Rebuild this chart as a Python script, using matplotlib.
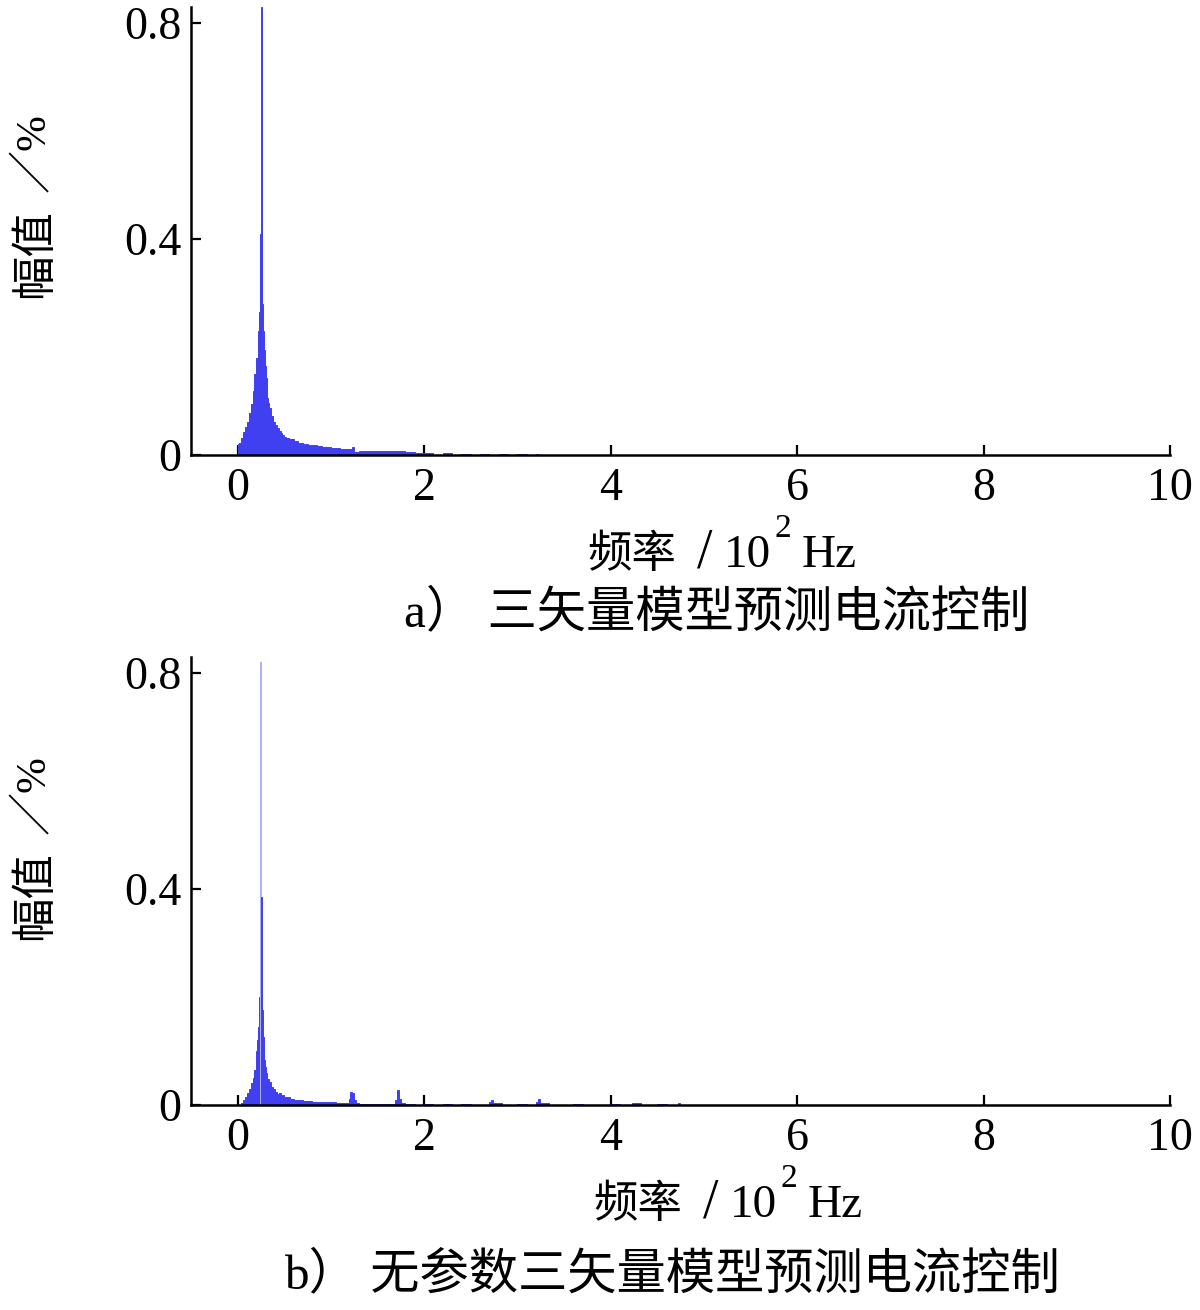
import numpy as np
import matplotlib
matplotlib.use("Agg")
import matplotlib.pyplot as plt

# ---------------- data ----------------
# (a) three-vector model predictive current control: frequency (10^2 Hz), amplitude (%)
freq_a = [0.00, 0.02, 0.04, 0.06, 0.08, 0.10, 0.12, 0.14, 0.16, 0.18, 0.20, 0.22,
          0.23, 0.24, 0.25, 0.26, 0.27, 0.28, 0.29, 0.30, 0.31, 0.32, 0.33, 0.34,
          0.36, 0.38, 0.40, 0.42, 0.44, 0.46, 0.48, 0.50, 0.52, 0.55, 0.60, 0.65,
          0.70, 0.75, 0.80, 0.85, 0.90, 0.95, 1.00, 1.05, 1.10, 1.15, 1.20, 1.23,
          1.25, 1.30, 1.40, 1.50, 1.60, 1.70, 1.80, 1.90, 2.00, 2.20, 2.40, 2.60,
          2.80, 3.00, 3.20]
amp_a = [0.020, 0.022, 0.032, 0.042, 0.052, 0.062, 0.078, 0.095, 0.118, 0.150, 0.180, 0.230,
         0.265, 0.410, 0.830, 0.280, 0.230, 0.195, 0.165, 0.142, 0.122, 0.106, 0.096, 0.087,
         0.072, 0.062, 0.055, 0.050, 0.044, 0.040, 0.037, 0.034, 0.032, 0.029, 0.026, 0.023,
         0.021, 0.019, 0.018, 0.016, 0.015, 0.014, 0.013, 0.013, 0.012, 0.012, 0.012, 0.015,
         0.006, 0.007, 0.007, 0.0075, 0.007, 0.007, 0.006, 0.004, 0.003, 0.003, 0.0025, 0.002,
         0.0015, 0.001, 0.001]

# (b) parameter-free three-vector model predictive current control
freq_b = [0.04, 0.06, 0.08, 0.10, 0.12, 0.14, 0.16, 0.18, 0.20, 0.21, 0.22, 0.23,
          0.24, 0.25, 0.26, 0.27, 0.28, 0.29, 0.30, 0.32, 0.34, 0.36, 0.38, 0.40,
          0.42, 0.44, 0.46, 0.48, 0.50, 0.52, 0.56, 0.60, 0.65, 0.70, 0.75, 0.80,
          0.85, 0.90, 0.95, 1.00, 1.05, 1.10, 1.15, 1.19, 1.21, 1.23, 1.25, 1.27,
          1.30, 1.40, 1.50, 1.60, 1.69, 1.71, 1.73, 1.75, 1.80, 2.00, 2.20, 2.40,
          2.70, 2.72, 2.74, 3.00, 3.20, 3.22, 3.24, 3.60, 4.00, 4.23, 4.50, 4.72]
amp_b = [0.003, 0.010, 0.015, 0.022, 0.030, 0.040, 0.050, 0.065, 0.100, 0.120, 0.145, 0.200,
         0.820, 0.385, 0.176, 0.126, 0.083, 0.070, 0.060, 0.048, 0.042, 0.034, 0.030, 0.024,
         0.020, 0.022, 0.017, 0.019, 0.014, 0.015, 0.011, 0.010, 0.009, 0.008, 0.007, 0.006,
         0.006, 0.005, 0.005, 0.005, 0.004, 0.004, 0.004, 0.012, 0.025, 0.022, 0.010, 0.004,
         0.002, 0.002, 0.002, 0.002, 0.010, 0.027, 0.012, 0.003, 0.001, 0.001, 0.001, 0.001,
         0.005, 0.010, 0.004, 0.001, 0.006, 0.012, 0.004, 0.001, 0.001, 0.004, 0.001, 0.004]

x_ticks = [0, 2, 4, 6, 8, 10]
y_ticks = [0, 0.4, 0.8]
y_ticklabels = ["0", "0.4", "0.8"]
ylabel_parts = ["幅值", "／%"]
xlabel_parts = ["频率", "/", "10", "2", "Hz"]
caption_a = "a） 三矢量模型预测电流控制"
caption_b = "b） 无参数三矢量模型预测电流控制"

# ---------------- style ----------------
W, H = 1200, 1310
SERIF = "Liberation Serif"
CJK = "Noto Sans CJK SC"
FAM = [SERIF, CJK, "DejaVu Sans"]
plt.rcParams["font.family"] = FAM
BLUE = "#4040f0"
LIGHT = "#aeaefa"

fig = plt.figure(figsize=(W / 100, H / 100), dpi=100)


def px_axes(left, right, bottom, top):
    return fig.add_axes([left / W, 1 - bottom / H, (right - left) / W, (bottom - top) / H])


def draw(ax, f, a, light_peak=False):
    f = np.asarray(f, float)
    a = np.asarray(a, float)
    widths = np.minimum(np.diff(np.append(f, f[-1] + 0.02)), 0.1)
    colors = [LIGHT if (light_peak and v > 0.6) else BLUE for v in a]
    ax.bar(f, a, width=widths, align="edge", color=colors, edgecolor=colors,
           linewidth=0.7, zorder=2)
    ax.set_xlim(-0.5, 10)
    ax.set_ylim(0, 0.83)
    ax.set_xticks(x_ticks)
    ax.set_xticklabels([str(t) for t in x_ticks])
    ax.set_yticks(y_ticks)
    ax.set_yticklabels(y_ticklabels)
    for s in ("top", "right"):
        ax.spines[s].set_visible(False)
    for s in ("left", "bottom"):
        ax.spines[s].set_linewidth(1.8)
        ax.spines[s].set_zorder(3)
    ax.tick_params(direction="in", length=7, width=1.6, labelsize=33, pad=7)
    ax.tick_params(axis="x", pad=9)
    for lab in ax.get_xticklabels() + ax.get_yticklabels():
        lab.set_fontfamily(SERIF)


axes_a = px_axes(191, 1170, 455, 7)
axes_b = px_axes(191, 1170, 1105, 657)
draw(axes_a, freq_a, amp_a)
draw(axes_b, freq_b, amp_b, light_peak=True)


def put(x, y, s, size, fam, **kw):
    return fig.text(x / W, 1 - y / H, s, fontsize=size, family=fam, **kw)


def xlabel_at(x0, baseline):
    # left edges (px) of each piece relative to the label start, and vertical raise
    offsets = [0, 110, 137, 187, 215]
    sizes = [32, 40, 34, 24, 34]
    fams = [CJK, SERIF, SERIF, SERIF, SERIF]
    raises = [0, 0, 0, 30, 0]
    for s, dx, size, fam, up in zip(xlabel_parts, offsets, sizes, fams, raises):
        put(x0 + dx, baseline - up, s, size, fam, ha="left", va="baseline")


def ylabel_at(cx, cy_cjk):
    # centres along the vertical direction (px from top), relative to the CJK part
    d = [0, -100]
    sizes = [32, 31]
    fams = [CJK, FAM]
    for s, dy, size, fam in zip(ylabel_parts, d, sizes, fams):
        put(cx, cy_cjk + dy, s, size, fam, rotation=90, ha="center", va="center")


ylabel_at(34, 253)
ylabel_at(34, 895)
xlabel_at(587, 567)
xlabel_at(593, 1217)
put(717, 613, caption_a, 35.5, FAM, ha="center", va="center")
put(672, 1275, caption_b, 35.5, FAM, ha="center", va="center")

fig.savefig("out.png", dpi=100, facecolor="white")
